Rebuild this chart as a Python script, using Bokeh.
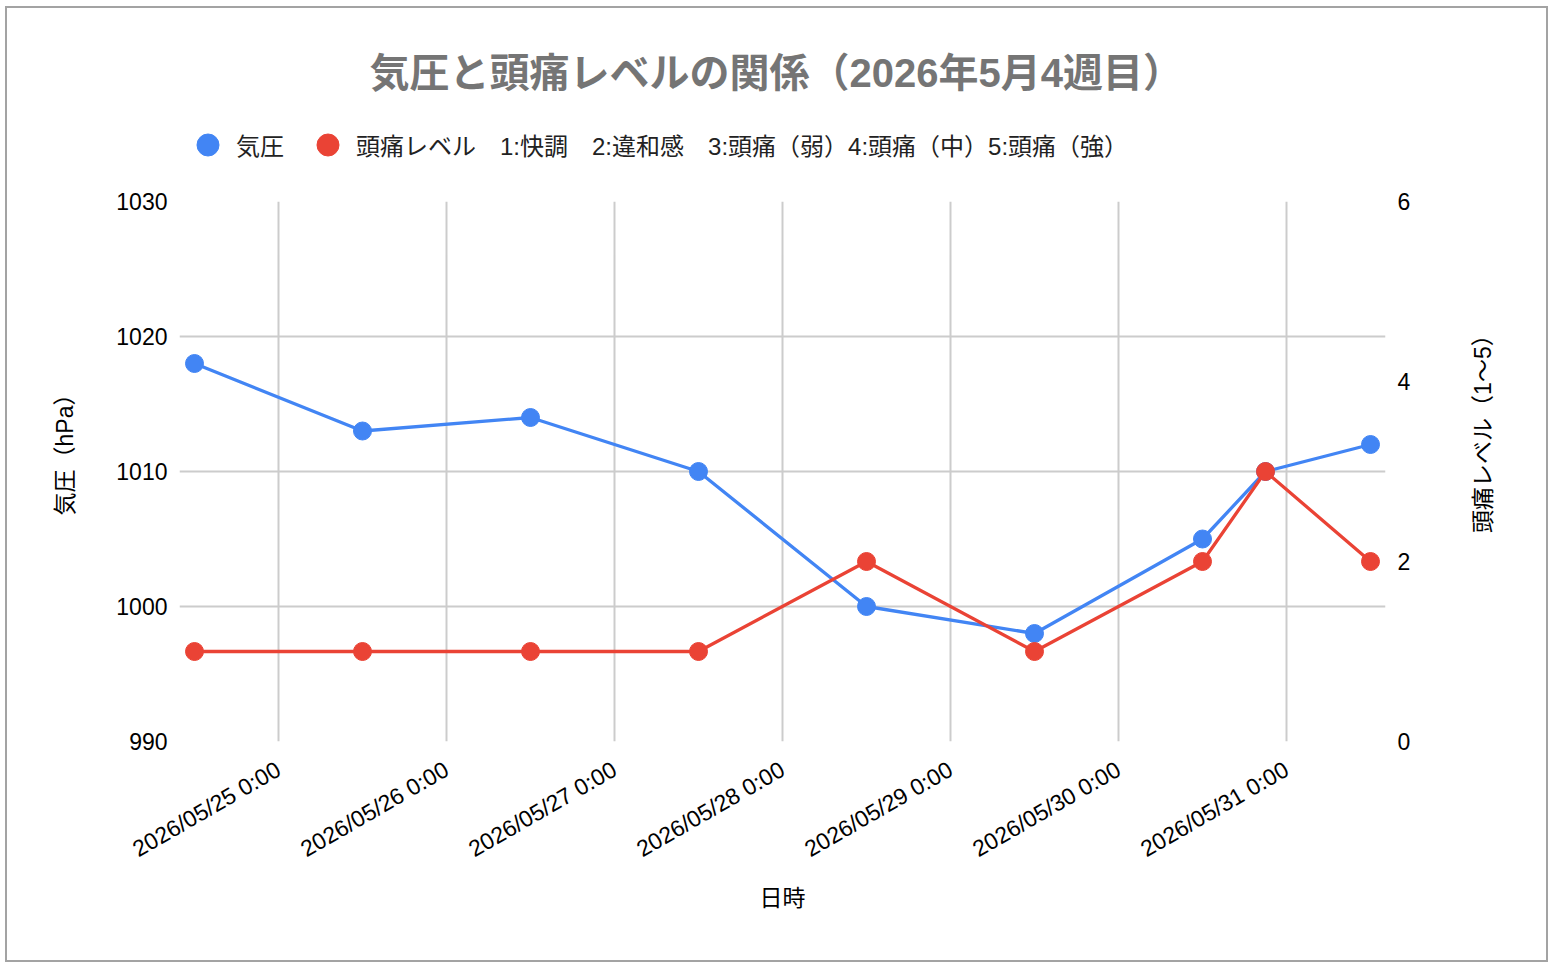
import math
import pandas as pd
from bokeh.plotting import figure
from bokeh.layouts import column, row
from bokeh.models import (
    Range1d, LinearAxis, FixedTicker, Legend, LegendItem, Label,
)
from bokeh.embed import file_html
from bokeh.resources import INLINE

# data
TIMES = [
    "2026-05-24 12:00", "2026-05-25 12:00", "2026-05-26 12:00",
    "2026-05-27 12:00", "2026-05-28 12:00", "2026-05-29 12:00",
    "2026-05-30 12:00", "2026-05-30 21:00", "2026-05-31 12:00",
]
PRESSURE = [1018, 1013, 1014, 1010, 1000, 998, 1005, 1010, 1012]
HEADACHE = [1, 1, 1, 1, 2, 1, 2, 3, 2]

TICK_DAYS = ["2026-05-25", "2026-05-26", "2026-05-27", "2026-05-28",
             "2026-05-29", "2026-05-30", "2026-05-31"]
PRESSURE_TICKS = [990, 1000, 1010, 1020, 1030]
LEVEL_TICKS = [0, 2, 4, 6]

TITLE = "気圧と頭痛レベルの関係（2026年5月4週目）"
LEG_PRESSURE = "気圧"
LEG_HEADACHE = "頭痛レベル　1:快調　2:違和感　3:頭痛（弱）4:頭痛（中）5:頭痛（強）"
X_LABEL = "日時"
Y_LABEL = "気圧（hPa）"
Y2_LABEL = "頭痛レベル（1〜5）"

BLUE = "#4285f4"
RED = "#ea4335"
GRID = "#cccccc"
FONT = "Liberation Sans, Noto Sans CJK JP"

W, HEAD_H = 1539, 178
FRAME_W, FRAME_H = 1206, 540
LEFT, RIGHT = 172, 161
L_STRIP, R_STRIP = 100, 121
MAIN_TOP, MAIN_BOTTOM = 15, 219
MAIN_H = MAIN_TOP + FRAME_H + MAIN_BOTTOM


def _ms(s):
    return pd.Timestamp(s).value / 1e6


x = [_ms(t) for t in TIMES]
ticks = [_ms(d) for d in TICK_DAYS]
tick_labels = {
    _ms(d): f"{pd.Timestamp(d):%Y/%m/%d} {pd.Timestamp(d).hour}:{pd.Timestamp(d):%M}"
    for d in TICK_DAYS
}

# google-style padding on the time axis
pad = (max(x) - min(x)) * 15 / 1176


def _strip(width, height, **kw):
    # plain figure used only as a canvas for text
    f = figure(
        width=width, height=height,
        x_range=Range1d(0, width - kw.get("min_border_left", 0)
                        - kw.get("min_border_right", 0)),
        y_range=Range1d(0, height - kw.get("min_border_bottom", 0)),
        x_axis_location=None, y_axis_location=None,
        output_backend="svg", toolbar_location=None,
        background_fill_color="white", border_fill_color="white",
        outline_line_color=None, min_border=0, **kw,
    )
    f.grid.visible = False
    return f


# --- header strip: title + legend (annotations in the main plot get clipped)
head = _strip(W, HEAD_H, min_border_left=LEFT, min_border_right=RIGHT,
              min_border_bottom=13)
head_frame_h = HEAD_H - 13

# legend proxies: first point of each series, far outside the header ranges
leg_blue = head.scatter(x[:1], PRESSURE[:1], color=BLUE, size=22)
leg_red = head.scatter(x[:1], HEADACHE[:1], color=RED, size=22)
legend = Legend(
    items=[LegendItem(label=LEG_PRESSURE, renderers=[leg_blue]),
           LegendItem(label=LEG_HEADACHE, renderers=[leg_red])],
    orientation="horizontal", location="bottom_left",
    glyph_width=55, glyph_height=55, label_standoff=1, spacing=16,
    padding=0, margin=1, border_line_color=None, background_fill_alpha=0,
    label_text_font=FONT, label_text_font_size="24px",
    label_text_color="#222222",
)
head.add_layout(legend, "center")

head.add_layout(Label(
    x=190, y=head_frame_h - 64.5, text=TITLE,
    text_align="left", text_baseline="middle",
    text_font=FONT, text_font_size="40px", text_font_style="bold",
    text_color="#757575",
))

# --- side strips carrying the vertical axis titles (both read upward)
lstrip = _strip(L_STRIP, MAIN_H)
lstrip.add_layout(Label(
    x=57, y=324, text=Y_LABEL, angle=math.pi / 2,
    text_align="left", text_baseline="middle",
    text_font=FONT, text_font_size="23px", text_color="#000000",
))

rstrip = _strip(R_STRIP, MAIN_H)
rstrip.add_layout(Label(
    x=57.5, y=299, text=Y2_LABEL, angle=math.pi / 2,
    text_align="left", text_baseline="middle",
    text_font=FONT, text_font_size="23px", text_color="#000000",
))

# --- main chart
p = figure(
    frame_width=FRAME_W, frame_height=FRAME_H,
    x_axis_type="datetime",
    x_range=Range1d(min(x) - pad, max(x) + pad),
    y_range=Range1d(PRESSURE_TICKS[0], PRESSURE_TICKS[-1]),
    output_backend="svg", toolbar_location=None,
    min_border_left=LEFT - L_STRIP, min_border_right=RIGHT - R_STRIP,
    min_border_top=MAIN_TOP, min_border_bottom=MAIN_BOTTOM,
    background_fill_color="white", border_fill_color="white",
    outline_line_color=None,
)
p.extra_y_ranges = {"lvl": Range1d(LEVEL_TICKS[0], LEVEL_TICKS[-1])}

p.line(x, PRESSURE, color=BLUE, line_width=3.3)
p.scatter(x, PRESSURE, size=18, color=BLUE)
p.line(x, HEADACHE, y_range_name="lvl", color=RED, line_width=3.3)
p.scatter(x, HEADACHE, y_range_name="lvl", size=18, color=RED)

p.xaxis.ticker = FixedTicker(ticks=ticks)
p.xaxis.major_label_overrides = tick_labels
p.xaxis.major_label_orientation = math.pi / 6
p.xaxis.axis_label = X_LABEL
p.xaxis.major_label_standoff = 20
p.xaxis.axis_label_standoff = 9

p.yaxis.ticker = FixedTicker(ticks=PRESSURE_TICKS)
p.yaxis.major_label_standoff = 6

ax2 = LinearAxis(y_range_name="lvl", ticker=FixedTicker(ticks=LEVEL_TICKS))
ax2.major_label_standoff = 6
p.add_layout(ax2, "right")

for ax in p.axis:
    ax.axis_line_color = None
    ax.major_tick_line_color = None
    ax.minor_tick_line_color = None
    ax.major_label_text_font = FONT
    ax.major_label_text_font_size = "23px"
    ax.major_label_text_color = "#000000"
    ax.axis_label_text_font = FONT
    ax.axis_label_text_font_size = "23px"
    ax.axis_label_text_font_style = "normal"
    ax.axis_label_text_color = "#000000"

p.xgrid.ticker = FixedTicker(ticks=ticks)
p.grid.grid_line_color = GRID
p.grid.grid_line_width = 2

page = column(head, row(lstrip, p, rstrip, spacing=0), spacing=0)
page.styles = {"margin-left": "7px", "margin-top": "8px",
               "outline": "2px solid #a3a3a3"}

open("out.html", "w").write(file_html(page, INLINE))
